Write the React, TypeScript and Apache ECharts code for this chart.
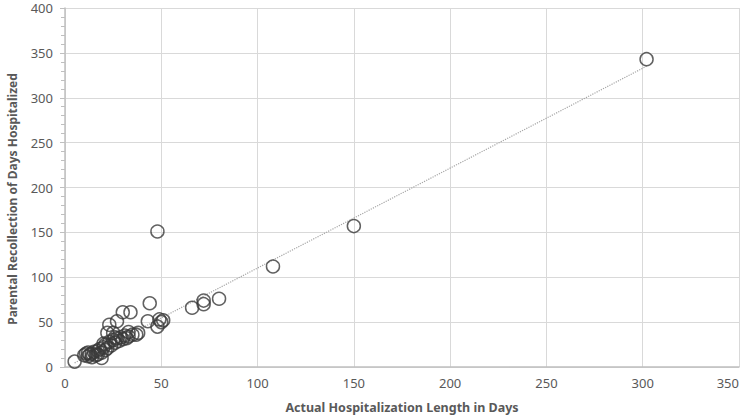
import React, { useEffect, useRef } from "react";
import * as echarts from "echarts";

// Actual hospitalization length (days) and parental recollection (days)
const actualDays: number[] = [
  302, 150, 108, 48, 80, 72, 72, 66, 51, 50, 49, 48, 44, 43, 34, 30, 27, 23, 22, 25, 33, 38, 37, 32, 5, 19,
  10, 11, 12, 12, 13, 14, 14, 15, 16, 17, 17, 18, 19, 20, 21, 21, 22, 23, 24, 25, 26, 27, 28, 29, 30, 31, 33, 35, 26, 20,
];
const recalledDays: number[] = [
  343, 157, 112, 151, 76, 74, 70, 66, 52, 50, 53, 45, 71, 51, 61, 61, 51, 47, 38, 38, 39, 38, 36, 32, 6, 10,
  13, 15, 12, 16, 14, 11, 15, 17, 13, 18, 14, 20, 16, 22, 19, 25, 21, 28, 24, 30, 27, 32, 29, 33, 31, 35, 34, 36, 33, 26,
];

// Linear trend line
const TREND_SLOPE = 1.113;
const TREND_INTERCEPT = -1;

const xTicks = { min: 0, max: 350, interval: 50 };
const yTicks = { min: 0, max: 400, interval: 50 };

const X_TITLE = "Actual Hospitalization Length in Days";
const Y_TITLE = "Parental Recollection of Days Hospitalized";

export default function App() {
  const ref = useRef<HTMLDivElement>(null);

  useEffect(() => {
    if (!ref.current) return;
    const chart = echarts.init(ref.current, undefined, { renderer: "svg" });
    const points = actualDays.map((x, i) => [x, recalledDays[i]]);
    const xMin = Math.min(...actualDays);
    const xMax = Math.max(...actualDays);
    const trend = [
      [xMin, TREND_SLOPE * xMin + TREND_INTERCEPT],
      [xMax, TREND_SLOPE * xMax + TREND_INTERCEPT],
    ];
    const font = "'Noto Sans', sans-serif";
    chart.setOption({
      animation: false,
      backgroundColor: "#ffffff",
      grid: { left: 65, right: 4, top: 8, bottom: 52, containLabel: false, outerBoundsMode: "none" },
      graphic: [
        {
          type: "text",
          x: 12,
          y: 199,
          rotation: Math.PI / 2,
          style: {
            text: Y_TITLE,
            fontFamily: font,
            fontSize: 12,
            fontWeight: "bold",
            fill: "#595959",
            align: "center",
            verticalAlign: "middle",
          },
        },
      ],
      xAxis: {
        type: "value",
        min: xTicks.min,
        max: xTicks.max,
        interval: xTicks.interval,
        name: X_TITLE,
        nameLocation: "middle",
        nameGap: 34,
        nameTextStyle: { fontFamily: font, fontSize: 12.5, fontWeight: "bold", color: "#595959" },
        axisLine: { show: true, lineStyle: { color: "#bfbfbf", width: 1.5 } },
        axisTick: { show: false },
        axisLabel: { fontFamily: font, fontSize: 13, color: "#595959", margin: 9, alignMaxLabel: "right" },
        splitLine: { show: true, lineStyle: { color: "#d9d9d9", width: 1 } },
      },
      yAxis: {
        type: "value",
        min: yTicks.min,
        max: yTicks.max,
        interval: yTicks.interval,
        axisLine: { show: true, lineStyle: { color: "#bfbfbf", width: 1.5 } },
        axisTick: { show: true, length: 5, lineStyle: { color: "#bfbfbf" } },
        minorTick: { show: true, splitNumber: 5, length: 4, lineStyle: { color: "#bfbfbf" } },
        axisLabel: { fontFamily: font, fontSize: 13, color: "#595959", margin: 12 },
        splitLine: { show: true, lineStyle: { color: "#d9d9d9", width: 1 } },
      },
      series: [
        {
          type: "line",
          data: trend,
          showSymbol: false,
          silent: true,
          z: 1,
          lineStyle: { type: "dotted", color: "#a6a6a6", width: 1.2 },
        },
        {
          type: "scatter",
          data: points,
          symbol: "circle",
          symbolSize: 13,
          z: 2,
          itemStyle: { color: "rgba(0,0,0,0)", borderColor: "#3a3a3a", borderWidth: 1.5 },
        },
      ],
    });
    return () => chart.dispose();
  }, []);

  return <div ref={ref} style={{ width: 743, height: 419, position: "absolute", left: 0, top: 0 }} />;
}
